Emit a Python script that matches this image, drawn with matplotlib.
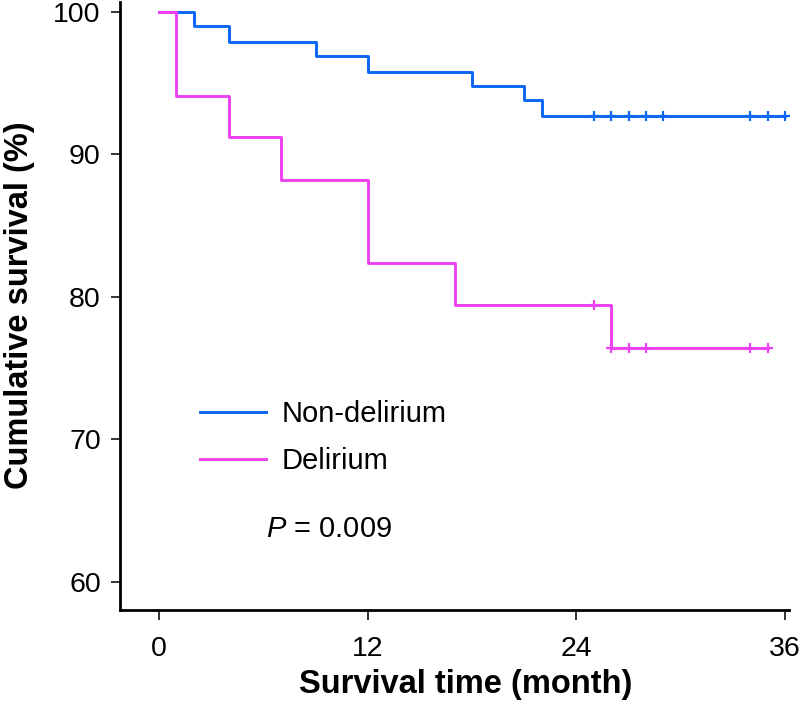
import matplotlib
matplotlib.use("Agg")
import matplotlib.pyplot as plt

plt.rcParams['font.family'] = ['Liberation Sans', 'DejaVu Sans']
plt.rcParams['mathtext.fontset'] = 'custom'
plt.rcParams['mathtext.it'] = 'Liberation Sans:italic'
plt.rcParams['mathtext.rm'] = 'Liberation Sans'

# Kaplan-Meier steps (month, cumulative survival %)
non_time = [0, 2, 4, 9, 12, 18, 21, 22, 36]
non_surv = [100, 99.0, 97.9, 96.9, 95.8, 94.8, 93.8, 92.7, 92.7]
non_cens = [25, 26, 27, 28, 29, 34, 35, 36]

del_time = [0, 1, 4, 7, 12, 17, 26, 35]
del_surv = [100, 94.1, 91.2, 88.2, 82.4, 79.4, 76.4, 76.4]
del_cens_time = [25, 26, 27, 28, 34, 35]
del_cens_surv = [79.4, 76.4, 76.4, 76.4, 76.4, 76.4]

labels = ["Non-delirium", "Delirium"]
colors = ["#0a66f5", "#ee40f5"]
p_text = r"$\it{P}$ = 0.009"

fig = plt.figure(figsize=(8, 7.16), dpi=100)
ax = fig.add_axes([0.1494, 0.148, 0.8374, 0.8492])

ax.step(non_time, non_surv, where='post', color=colors[0], lw=2.1, label=labels[0])
ax.plot(non_cens, [non_surv[-1]] * len(non_cens), ls='none', marker='+',
        ms=7.5, mew=1.6, color=colors[0])
ax.step(del_time, del_surv, where='post', color=colors[1], lw=2.1, label=labels[1])
ax.plot(del_cens_time, del_cens_surv, ls='none', marker='+',
        ms=7.5, mew=1.6, color=colors[1])

ax.set_xlim(-2.27, 36.25)
ax.set_ylim(58, 100.7)
ax.set_xticks([0, 12, 24, 36])
ax.set_yticks([60, 70, 80, 90, 100])

for s in ['top', 'right']:
    ax.spines[s].set_visible(False)
for s in ['left', 'bottom']:
    ax.spines[s].set_linewidth(2.0)
    ax.spines[s].set_color('black')

ax.tick_params(axis='y', length=6.5, width=1.4, color='#333333', pad=7, labelsize=20.5)
ax.tick_params(axis='x', length=7, width=1.4, color='#333333', pad=12, labelsize=20.5)

ax.set_xlabel("Survival time (month)", fontsize=23.5, fontweight='bold', va='center')
ax.xaxis.set_label_coords(0.517, -0.1217)
ax.set_ylabel("Cumulative survival (%)", fontsize=23.5, fontweight='bold', va='center')
ax.yaxis.set_label_coords(-0.150, 0.502)

ax.legend(loc='center left', bbox_to_anchor=(0.12, 0.284), frameon=False,
          fontsize=21, handlelength=2.26, handletextpad=0.55, labelspacing=0.65,
          borderpad=0, borderaxespad=0)

ax.text(0.2186, 0.1325, p_text, transform=ax.transAxes, fontsize=21,
        ha='left', va='center')

fig.savefig("out.png", dpi=100)
